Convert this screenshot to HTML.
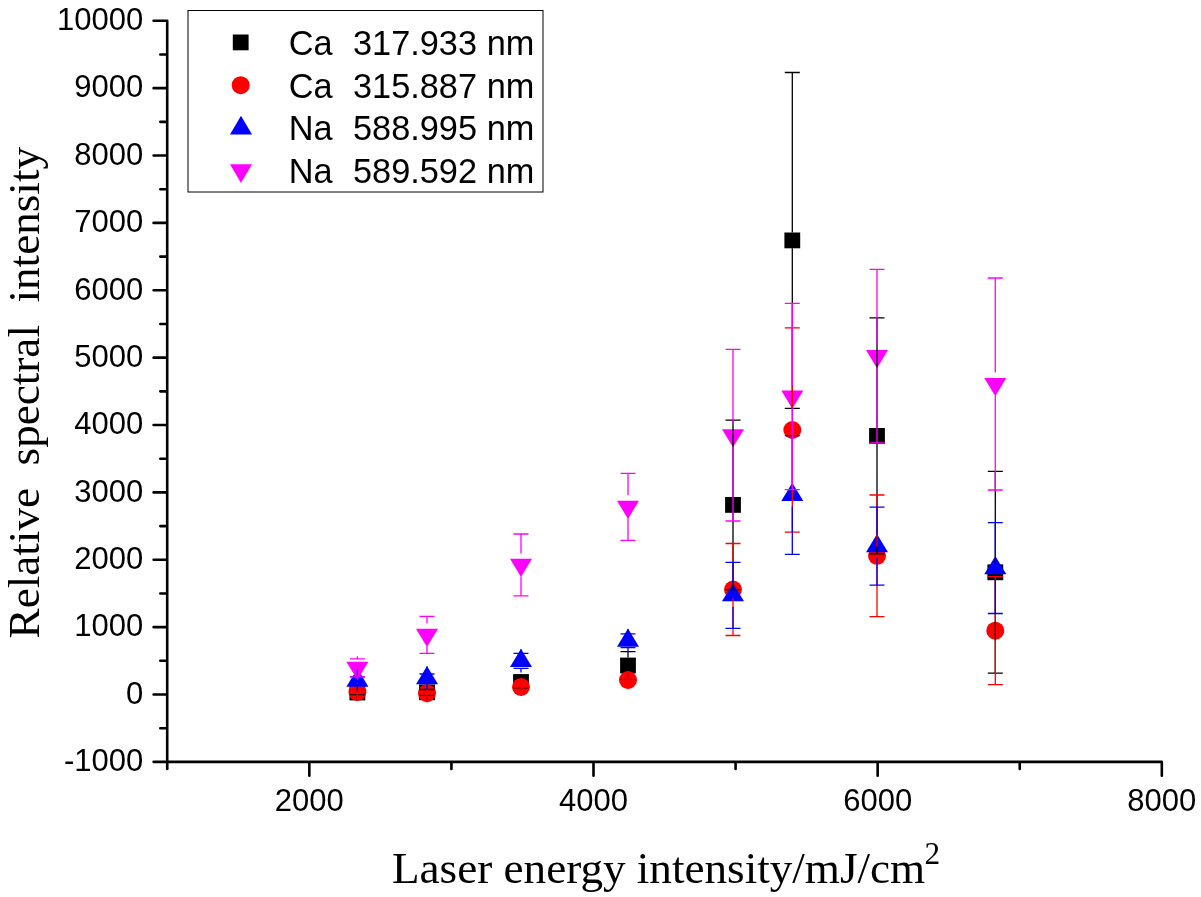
<!DOCTYPE html><html><head><meta charset="utf-8"><style>html,body{margin:0;padding:0;background:#fff;}svg{display:block;will-change:transform}</style></head><body>
<svg width="1201" height="897" viewBox="0 0 1201 897">
<rect width="1201" height="897" fill="#fff"/>
<path d="M167.20 20.80V769.00 M167.20 761.90H1161.82 M153.60 761.87H167.20 M160.30 728.18H167.20 M153.60 694.50H167.20 M160.30 660.82H167.20 M153.60 627.13H167.20 M160.30 593.45H167.20 M153.60 559.76H167.20 M160.30 526.08H167.20 M153.60 492.39H167.20 M160.30 458.71H167.20 M153.60 425.02H167.20 M160.30 391.33H167.20 M153.60 357.65H167.20 M160.30 323.97H167.20 M153.60 290.28H167.20 M160.30 256.60H167.20 M153.60 222.91H167.20 M160.30 189.23H167.20 M153.60 155.54H167.20 M160.30 121.86H167.20 M153.60 88.17H167.20 M160.30 54.49H167.20 M153.60 20.80H167.20 M167.26 761.90V769.00 M309.34 761.90V775.70 M451.42 761.90V769.00 M593.50 761.90V775.70 M735.58 761.90V769.00 M877.66 761.90V775.70 M1019.74 761.90V769.00 M1161.82 761.90V775.70" fill="none" stroke="#000" stroke-width="2.6" stroke-linecap="round"/>
<g font-family="Liberation Sans, sans-serif" font-size="31" fill="#000">
<text x="143.2" y="771.17" text-anchor="end">-1000</text>
<text x="143.2" y="703.80" text-anchor="end">0</text>
<text x="143.2" y="636.43" text-anchor="end">1000</text>
<text x="143.2" y="569.06" text-anchor="end">2000</text>
<text x="143.2" y="501.69" text-anchor="end">3000</text>
<text x="143.2" y="434.32" text-anchor="end">4000</text>
<text x="143.2" y="366.95" text-anchor="end">5000</text>
<text x="143.2" y="299.58" text-anchor="end">6000</text>
<text x="143.2" y="232.21" text-anchor="end">7000</text>
<text x="143.2" y="164.84" text-anchor="end">8000</text>
<text x="143.2" y="97.47" text-anchor="end">9000</text>
<text x="143.2" y="30.10" text-anchor="end">10000</text>
<text x="309.34" y="811" text-anchor="middle">2000</text>
<text x="593.50" y="811" text-anchor="middle">4000</text>
<text x="877.66" y="811" text-anchor="middle">6000</text>
<text x="1161.82" y="811" text-anchor="middle">8000</text>
</g>
<g font-family="Liberation Serif, serif" font-size="45.15" fill="#000">
<text x="392" y="883" xml:space="preserve">Laser energy intensity/mJ/cm<tspan font-size="31.2" dx="-0.8" dy="-19.4">2</tspan></text>
<text transform="translate(39.1 637.1) rotate(-90)" x="-1.3" y="0" xml:space="preserve">Relative  spectral  intensity</text>
</g>
<rect x="349.50" y="684.60" width="15.8" height="15.8" fill="#000000"/>
<rect x="419.10" y="684.40" width="15.8" height="15.8" fill="#000000"/>
<rect x="513.10" y="674.10" width="15.8" height="15.8" fill="#000000"/>
<rect x="620.10" y="657.60" width="15.8" height="15.8" fill="#000000"/>
<rect x="725.10" y="497.00" width="15.8" height="15.8" fill="#000000"/>
<rect x="784.40" y="232.50" width="15.8" height="15.8" fill="#000000"/>
<rect x="869.10" y="428.00" width="15.8" height="15.8" fill="#000000"/>
<rect x="987.40" y="564.40" width="15.8" height="15.8" fill="#000000"/>
<circle cx="357.40" cy="692.00" r="9.0" fill="#ff0000"/>
<circle cx="427.00" cy="693.20" r="9.0" fill="#ff0000"/>
<circle cx="521.00" cy="686.90" r="9.0" fill="#ff0000"/>
<circle cx="628.00" cy="680.00" r="9.0" fill="#ff0000"/>
<circle cx="733.00" cy="589.50" r="9.0" fill="#ff0000"/>
<circle cx="792.30" cy="430.00" r="9.0" fill="#ff0000"/>
<circle cx="877.00" cy="555.80" r="9.0" fill="#ff0000"/>
<circle cx="995.30" cy="630.70" r="9.0" fill="#ff0000"/>
<path d="M357.40 668.47L368.40 686.67L346.40 686.67Z" fill="#0000ff"/>
<path d="M427.00 666.07L438.00 684.27L416.00 684.27Z" fill="#0000ff"/>
<path d="M521.00 648.77L532.00 666.97L510.00 666.97Z" fill="#0000ff"/>
<path d="M628.00 628.57L639.00 646.77L617.00 646.77Z" fill="#0000ff"/>
<path d="M733.00 583.17L744.00 601.37L722.00 601.37Z" fill="#0000ff"/>
<path d="M792.30 482.87L803.30 501.07L781.30 501.07Z" fill="#0000ff"/>
<path d="M877.00 533.97L888.00 552.17L866.00 552.17Z" fill="#0000ff"/>
<path d="M995.30 555.97L1006.30 574.17L984.30 574.17Z" fill="#0000ff"/>
<path d="M346.40 661.73L368.40 661.73L357.40 679.93Z" fill="#ff00ff"/>
<path d="M416.00 628.73L438.00 628.73L427.00 646.93Z" fill="#ff00ff"/>
<path d="M510.00 558.83L532.00 558.83L521.00 577.03Z" fill="#ff00ff"/>
<path d="M617.00 500.73L639.00 500.73L628.00 518.93Z" fill="#ff00ff"/>
<path d="M722.00 429.13L744.00 429.13L733.00 447.33Z" fill="#ff00ff"/>
<path d="M781.30 390.43L803.30 390.43L792.30 408.63Z" fill="#ff00ff"/>
<path d="M866.00 350.03L888.00 350.03L877.00 368.23Z" fill="#ff00ff"/>
<path d="M984.30 377.93L1006.30 377.93L995.30 396.13Z" fill="#ff00ff"/>
<path d="M357.40 690.40V684.60M357.40 694.60V700.40 M349.90 690.40H364.90M349.90 694.60H364.90 M427.00 689.50V684.40M427.00 695.10V700.20 M419.50 689.50H434.50M419.50 695.10H434.50 M521.00 675.90V674.10M521.00 688.10V689.90 M513.50 675.90H528.50M513.50 688.10H528.50 M628.00 651.70V657.60M628.00 679.30V673.40 M620.50 651.70H635.50M620.50 679.30H635.50 M733.00 420.20V497.00M733.00 589.60V512.80 M725.50 420.20H740.50M725.50 589.60H740.50 M792.30 72.50V232.50M792.30 408.30V248.30 M784.80 72.50H799.80M784.80 408.30H799.80 M877.00 317.90V428.00M877.00 553.90V443.80 M869.50 317.90H884.50M869.50 553.90H884.50 M995.30 471.40V564.40M995.30 673.20V580.20 M987.80 471.40H1002.80M987.80 673.20H1002.80" fill="none" stroke="#000000" stroke-width="1.3"/>
<path d="M357.40 690.40V683.00M357.40 693.60V701.00 M349.90 690.40H364.90M349.90 693.60H364.90 M427.00 692.20V684.20M427.00 694.20V702.20 M419.50 692.20H434.50M419.50 694.20H434.50 M521.00 685.90V677.90M521.00 687.90V695.90 M513.50 685.90H528.50M513.50 687.90H528.50 M628.00 679.00V671.00M628.00 681.00V689.00 M620.50 679.00H635.50M620.50 681.00H635.50 M733.00 543.50V580.50M733.00 635.50V598.50 M725.50 543.50H740.50M725.50 635.50H740.50 M792.30 327.80V421.00M792.30 532.20V439.00 M784.80 327.80H799.80M784.80 532.20H799.80 M877.00 495.00V546.80M877.00 616.60V564.80 M869.50 495.00H884.50M869.50 616.60H884.50 M995.30 576.70V621.70M995.30 684.70V639.70 M987.80 576.70H1002.80M987.80 684.70H1002.80" fill="none" stroke="#ff0000" stroke-width="1.3"/>
<path d="M357.40 676.80V669.00M357.40 684.40V692.20 M349.90 676.80H364.90M349.90 684.40H364.90 M427.00 674.00V666.60M427.00 682.40V689.80 M419.50 674.00H434.50M419.50 682.40H434.50 M521.00 653.40V649.30M521.00 668.40V672.50 M513.50 653.40H528.50M513.50 668.40H528.50 M628.00 633.80V629.10M628.00 647.60V652.30 M620.50 633.80H635.50M620.50 647.60H635.50 M733.00 562.30V583.70M733.00 628.30V606.90 M725.50 562.30H740.50M725.50 628.30H740.50 M792.30 435.60V483.40M792.30 554.40V506.60 M784.80 435.60H799.80M784.80 554.40H799.80 M877.00 507.10V534.50M877.00 585.10V557.70 M869.50 507.10H884.50M869.50 585.10H884.50 M995.30 522.70V556.50M995.30 613.50V579.70 M987.80 522.70H1002.80M987.80 613.50H1002.80" fill="none" stroke="#0000ff" stroke-width="1.3"/>
<path d="M357.40 658.80V656.30M357.40 676.80V679.30 M349.90 658.80H364.90M349.90 676.80H364.90 M427.00 616.30V623.30M427.00 653.30V646.30 M419.50 616.30H434.50M419.50 653.30H434.50 M521.00 534.00V553.40M521.00 595.80V576.40 M513.50 534.00H528.50M513.50 595.80H528.50 M628.00 473.30V495.30M628.00 540.30V518.30 M620.50 473.30H635.50M620.50 540.30H635.50 M733.00 349.40V423.70M733.00 521.00V446.70 M725.50 349.40H740.50M725.50 521.00H740.50 M792.30 303.40V385.00M792.30 489.60V408.00 M784.80 303.40H799.80M784.80 489.60H799.80 M877.00 269.40V344.60M877.00 442.80V367.60 M869.50 269.40H884.50M869.50 442.80H884.50 M995.30 278.00V372.50M995.30 490.00V395.50 M987.80 278.00H1002.80M987.80 490.00H1002.80" fill="none" stroke="#ff00ff" stroke-width="1.3"/>
<rect x="188" y="10.5" width="355" height="181.5" fill="none" stroke="#000" stroke-width="1"/>
<rect x="232.80" y="34.50" width="15.8" height="15.8" fill="#000"/>
<circle cx="240.70" cy="85.20" r="9.0" fill="#f00"/>
<path d="M241.00 115.70L252.00 134.60L230.00 134.60Z" fill="#0000ff"/>
<path d="M230.00 164.20L252.00 164.20L241.00 183.10Z" fill="#ff00ff"/>
<g font-family="Liberation Sans, sans-serif" font-size="34.3" fill="#000">
<text x="288.7" y="55.30">Ca</text>
<text x="353.0" y="55.30">317.933</text>
<text x="534.3" y="55.30" text-anchor="end">nm</text>
<text x="288.7" y="97.80">Ca</text>
<text x="353.0" y="97.80">315.887</text>
<text x="534.3" y="97.80" text-anchor="end">nm</text>
<text x="288.7" y="140.30">Na</text>
<text x="353.0" y="140.30">588.995</text>
<text x="534.3" y="140.30" text-anchor="end">nm</text>
<text x="288.7" y="182.80">Na</text>
<text x="353.0" y="182.80">589.592</text>
<text x="534.3" y="182.80" text-anchor="end">nm</text>
</g>
</svg></body></html>
